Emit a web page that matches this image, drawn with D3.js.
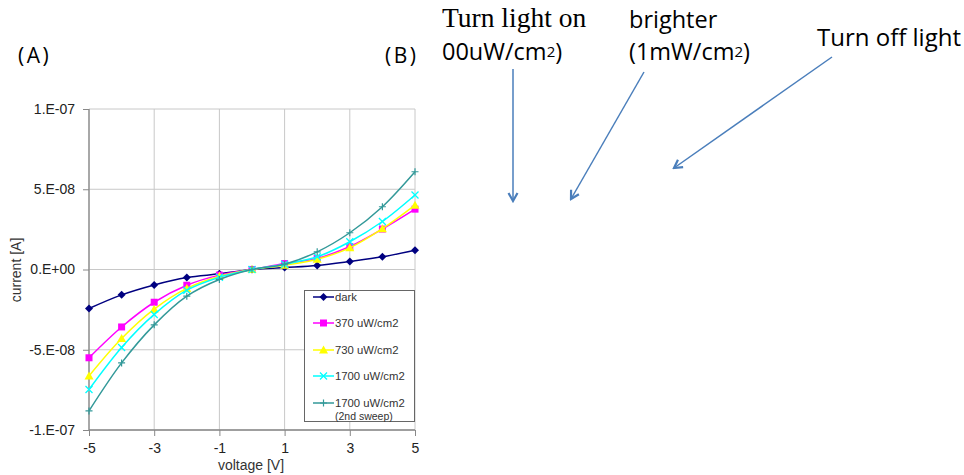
<!DOCTYPE html>
<html><head><meta charset="utf-8">
<script src="https://cdn.jsdelivr.net/npm/d3@7"></script>
<style>body{margin:0;background:#fff;}svg{display:block;}</style>
</head><body>
<script>
const voltages = [-5,-4,-3,-2,-1,0,1,2,3,4,5];
const dark    = [-2.43e-8,-1.58e-8,-0.96e-8,-0.50e-8,-0.27e-8,0,0.12e-8,0.25e-8,0.50e-8,0.79e-8,1.20e-8];
const p370    = [-5.50e-8,-3.58e-8,-2.04e-8,-0.98e-8,-0.35e-8,0,0.37e-8,0.69e-8,1.43e-8,2.52e-8,3.76e-8];
const p730    = [-6.63e-8,-4.30e-8,-2.47e-8,-1.18e-8,-0.42e-8,0,0.27e-8,0.64e-8,1.35e-8,2.54e-8,4.01e-8];
const p1700   = [-7.48e-8,-4.86e-8,-2.80e-8,-1.29e-8,-0.48e-8,0,0.33e-8,0.79e-8,1.73e-8,2.99e-8,4.64e-8];
const p1700b  = [-8.81e-8,-5.82e-8,-3.45e-8,-1.66e-8,-0.62e-8,0,0.33e-8,1.10e-8,2.29e-8,3.91e-8,6.09e-8];
const seriesNames = ["dark","370 uW/cm2","730 uW/cm2","1700 uW/cm2","1700 uW/cm2"];
const xTicks = [-5,-3,-1,1,3,5];
const xTickLabels = ["-5","-3","-1","1","3","5"];
const yTicks = [1e-7,5e-8,0,-5e-8,-1e-7];
const yTickLabels = ["1.E-07","5.E-08","0.E+00","-5.E-08","-1.E-07"];

const series = [
  {name:seriesNames[0], values:dark,   color:"#000080", marker:"diamond"},
  {name:seriesNames[1], values:p370,   color:"#FF00FF", marker:"square"},
  {name:seriesNames[2], values:p730,   color:"#FFFF00", marker:"triangle"},
  {name:seriesNames[3], values:p1700,  color:"#00FFFF", marker:"x"},
  {name:seriesNames[4], values:p1700b, color:"#339999", marker:"plus", sub:"(2nd sweep)"}
];

const W=964,H=475;
const svg=d3.select("body").append("svg").attr("width",W).attr("height",H);
const x=d3.scaleLinear().domain([-5,5]).range([89,415]);
const y=d3.scaleLinear().domain([-1e-7,1e-7]).range([430,109]);
const arial="'Liberation Sans',Arial,sans-serif";

// grid
const g=svg.append("g");
g.selectAll(".vg").data(xTicks).enter().append("line")
  .attr("x1",d=>x(d)).attr("x2",d=>x(d)).attr("y1",y(1e-7)).attr("y2",y(-1e-7))
  .attr("stroke","#c8c8c8").attr("stroke-width",1);
g.selectAll(".hg").data(yTicks).enter().append("line")
  .attr("x1",x(-5)).attr("x2",x(5)).attr("y1",d=>y(d)).attr("y2",d=>y(d))
  .attr("stroke","#c8c8c8").attr("stroke-width",1);

// axes
const xAxis=d3.axisBottom(x).tickValues(xTicks).tickSize(6).tickFormat((d,i)=>xTickLabels[i]);
const yAxis=d3.axisLeft(y).tickValues(yTicks).tickSize(6).tickFormat((d,i)=>yTickLabels[i]);
const gx=svg.append("g").attr("transform","translate(0,430)").call(xAxis);
const gy=svg.append("g").attr("transform","translate(89,0)").call(yAxis);
[gx,gy].forEach(a=>{
  a.select(".domain").attr("stroke","#888").attr("stroke-width",1.3);
  a.selectAll(".tick line").attr("stroke","#888");
  a.selectAll(".tick text").attr("font-family",arial).attr("font-size",14).attr("fill","#222");
});
gx.select(".domain").attr("d","M89,0H415");
gy.select(".domain").attr("d","M0,109V430");
gx.selectAll(".tick text").attr("y",23).attr("dy",0);
gy.selectAll(".tick text").attr("dx","-0.35em");

svg.append("text").attr("x",251).attr("y",470).attr("text-anchor","middle")
  .attr("font-family",arial).attr("font-size",14).attr("fill","#333").text("voltage [V]");
svg.append("text").attr("transform","translate(21,270) rotate(-90)").attr("text-anchor","middle")
  .attr("font-family",arial).attr("font-size",14).attr("fill","#333").text("current [A]");

// series
const line=d3.line().x((d,i)=>x(voltages[i])).y(d=>y(d)).curve(d3.curveCatmullRom.alpha(0.5));
function drawMarker(sel,type,color,cx,cy){
  if(type==="diamond") sel.append("path").attr("d",`M${cx},${cy-4}L${cx+4},${cy}L${cx},${cy+4}L${cx-4},${cy}Z`).attr("fill",color);
  else if(type==="square") sel.append("rect").attr("x",cx-3.5).attr("y",cy-3.5).attr("width",7).attr("height",7).attr("fill",color);
  else if(type==="triangle") sel.append("path").attr("d",`M${cx},${cy-4.5}L${cx+4.5},${cy+3.5}L${cx-4.5},${cy+3.5}Z`).attr("fill",color);
  else if(type==="x") sel.append("path").attr("d",`M${cx-3.5},${cy-3.5}L${cx+3.5},${cy+3.5}M${cx-3.5},${cy+3.5}L${cx+3.5},${cy-3.5}`).attr("stroke",color).attr("stroke-width",1.3).attr("fill","none");
  else if(type==="plus") sel.append("path").attr("d",`M${cx-3.5},${cy}L${cx+3.5},${cy}M${cx},${cy-3.5}L${cx},${cy+3.5}`).attr("stroke",color).attr("stroke-width",1.2).attr("fill","none");
}
series.forEach(s=>{
  svg.append("path").attr("d",line(s.values)).attr("fill","none").attr("stroke",s.color).attr("stroke-width",1.5);
  const mg=svg.append("g");
  s.values.forEach((v,i)=>drawMarker(mg,s.marker,s.color,x(voltages[i]),y(v)));
});

// legend
const lg=svg.append("g");
lg.append("rect").attr("x",304.5).attr("y",290.5).attr("width",110).attr("height",131)
  .attr("fill","#fff").attr("stroke","#666").attr("stroke-width",1);
const legY=[297,323,350,376,403];
series.forEach((s,i)=>{
  const ly=legY[i];
  lg.append("line").attr("x1",313).attr("x2",334).attr("y1",ly).attr("y2",ly).attr("stroke",s.color).attr("stroke-width",1.5);
  drawMarker(lg,s.marker,s.color,323.5,ly);
  lg.append("text").attr("x",335).attr("y",ly+4).attr("font-family",arial)
    .attr("font-size",11.3).attr("fill","#333").text(s.name);
  if(s.sub) lg.append("text").attr("x",335).attr("y",ly+17).attr("font-family",arial)
    .attr("font-size",10.5).attr("fill","#333").text(s.sub);
});

// annotations
const sans="'Open Sans',sans-serif";
svg.append("text").attr("x",18).attr("y",63).attr("font-family",sans).attr("font-size",21).attr("letter-spacing",2.5).attr("fill","#000").text("(A)");
svg.append("text").attr("x",385).attr("y",63).attr("font-family",sans).attr("font-size",21).attr("letter-spacing",2.5).attr("fill","#000").text("(B)");
svg.append("text").attr("x",442).attr("y",27).attr("font-family","'Liberation Serif','DejaVu Serif',serif").attr("font-size",27.5).attr("fill","#000").text("Turn light on");
function cm2(xp,yp,pre){
  const t=svg.append("text").attr("x",xp).attr("y",yp).attr("font-family",sans).attr("font-size",23.5).attr("fill","#000");
  t.append("tspan").text(pre+"/cm");
  t.append("tspan").attr("font-size",15).attr("dy",-3).text("2");
  t.append("tspan").attr("dy",3).text(")");
}
cm2(442,60,"00uW");
svg.append("text").attr("x",629).attr("y",28).attr("font-family",sans).attr("font-size",23.5).attr("fill","#000").text("brighter");
cm2(629,60,"(1mW");
svg.append("text").attr("x",817).attr("y",46).attr("font-family",sans).attr("font-size",24).attr("fill","#000").text("Turn off light");

const defs=svg.append("defs");
defs.append("marker").attr("id","ah").attr("viewBox","0 0 12 12").attr("refX",10).attr("refY",6)
  .attr("markerWidth",12).attr("markerHeight",12).attr("markerUnits","userSpaceOnUse").attr("orient","auto")
  .append("path").attr("d","M2,1.5L10,6L2,10.5").attr("fill","none").attr("stroke","#4a7ebb").attr("stroke-width",2.2);
const arrows=[[513,69,513,201],[644,72,571,199],[832,57,674,168]];
svg.selectAll(".arr").data(arrows).enter().append("line")
  .attr("x1",d=>d[0]).attr("y1",d=>d[1]).attr("x2",d=>d[2]).attr("y2",d=>d[3])
  .attr("stroke","#4a7ebb").attr("stroke-width",1.5).attr("marker-end","url(#ah)");
</script>
</body></html>
